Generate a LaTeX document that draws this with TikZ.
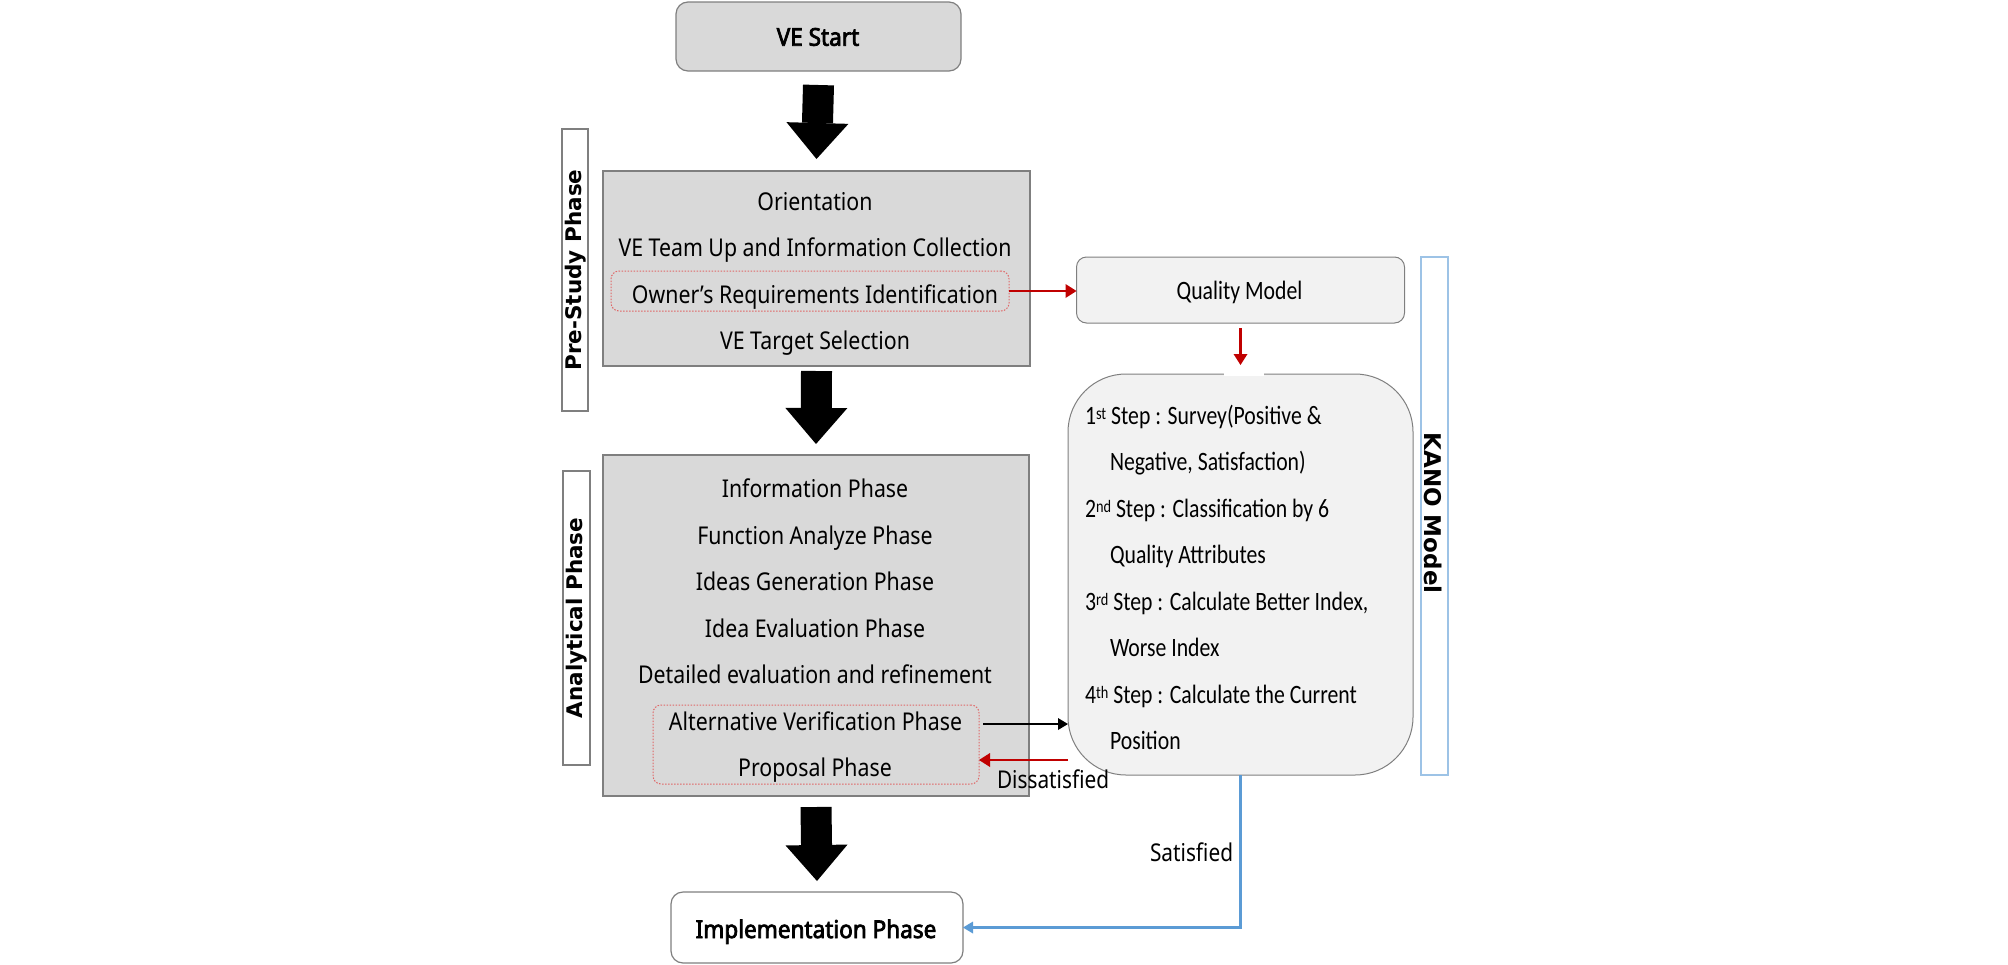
\documentclass[tikz,border=0pt]{standalone}
\usepackage{fontspec}
\setmainfont{Noto Sans}[FakeStretch=0.87]
\newfontfamily\boldmain{Noto Sans}[FakeStretch=0.92, FakeBold=3]
\newfontfamily\narrowmain{Noto Sans}[FakeStretch=0.85]
\newfontfamily\calfont{Carlito}[FakeStretch=0.82]
\newfontfamily\lblfont{DejaVu Sans}
\usetikzlibrary{arrows.meta,calc}
\definecolor{boxgray}{HTML}{D9D9D9}
\definecolor{lightbox}{HTML}{F2F2F2}
\definecolor{edgegray}{HTML}{7F7F7F}
\definecolor{redline}{HTML}{C00000}
\definecolor{reddash}{HTML}{E06666}
\definecolor{blueline}{HTML}{5B9BD5}
\definecolor{labelblue}{HTML}{9DC3E6}
\newcommand{\kup}[1]{\raisebox{4.5pt}{\fontsize{17.5}{17.5}\selectfont #1}}
\begin{document}
\begin{tikzpicture}[x=1pt,y=-1pt,
  every node/.style={inner sep=0pt, outer sep=0pt},
  txt/.style={font=\fontsize{24.5}{28}\selectfont, anchor=base},
  btxt/.style={font=\boldmain\fontsize{24.5}{28}\selectfont, anchor=base},
  ntxt/.style={font=\narrowmain\fontsize{24.5}{28}\selectfont, anchor=base west},
  ktxt/.style={font=\calfont\fontsize{26.5}{30}\selectfont, anchor=base west},
  mainbox/.style={draw=edgegray, line width=1.5pt, fill=boxgray},
  endbox/.style={draw=edgegray, line width=1.2pt, rounded corners=12pt},
  softbox/.style={draw=edgegray, line width=1pt, fill=lightbox},
  reddashbox/.style={draw=reddash, line width=1pt, dash pattern=on 1.5pt off 1.5pt, rounded corners=8pt},
  sidelabel/.style={draw=edgegray, line width=1.5pt, fill=white},
  lbltxt/.style={font=\lblfont\bfseries\fontsize{21.5}{24}\selectfont},
  bigarrow/.style={line width=31pt, -{Triangle[width=62pt,length=36pt,line width=0pt]}},
  redarr/.style={draw=redline, line width=2.5pt, -{Triangle[width=14pt,length=11pt,line width=0pt]}},
  blackarr/.style={draw=black, line width=2pt, -{Triangle[width=12pt,length=10pt,line width=0pt]}},
  bluearr/.style={draw=blueline, line width=2.5pt, -{Triangle[width=12pt,length=10pt,line width=0pt]}}
]
\useasboundingbox (0,0) rectangle (2008,964);

% ---- main column boxes
\node[endbox, fill=boxgray, minimum width=285pt, minimum height=69pt] (start) at (818.5,36.5) {};
\node[btxt] (starttxt) at (818,45.7) {VE Start};

\node[mainbox, minimum width=427pt, minimum height=195pt] (pre) at (816.5,268.5) {};
\node[reddashbox, minimum width=398pt, minimum height=40pt] (owner) at (810,291) {};
\node[txt] (t1) at (815,210) {Orientation};
\node[txt] (t2) at (815,256.5) {VE Team Up and Information Collection};
\node[txt] (t3) at (815,303) {Owner’s Requirements Identification};
\node[txt] (t4) at (815,349.5) {VE Target Selection};

\node[mainbox, minimum width=426pt, minimum height=341pt] (ana) at (816,625.5) {};
\node[reddashbox, minimum width=326pt, minimum height=79pt] (altbox) at (816,744.5) {};
\node[txt] (a1) at (815,497.5) {Information Phase};
\node[txt] (a2) at (815,544) {Function Analyze Phase};
\node[txt] (a3) at (815,590.5) {Ideas Generation Phase};
\node[txt] (a4) at (815,637) {Idea Evaluation Phase};
\node[txt] (a5) at (815,683.5) {Detailed evaluation and refinement};
\node[txt] (a6) at (815.5,730) {Alternative Verification Phase};
\node[txt] (a7) at (815,776) {Proposal Phase};

\node[endbox, fill=white, minimum width=292pt, minimum height=71pt] (impl) at (817,927.5) {};
\node[btxt] (impltxt) at (816,938) {Implementation Phase};

% ---- side labels
\node[sidelabel, minimum width=26pt, minimum height=282pt] (prelbl) at (575,270) {};
\node[lbltxt, rotate=90] (prelbltxt) at (576,270) {Pre-Study Phase};
\node[sidelabel, minimum width=27pt, minimum height=294pt] (analbl) at (576.5,618) {};
\node[lbltxt, rotate=90] (analbltxt) at (577,618) {Analytical Phase};

% ---- KANO side
\node[softbox, rounded corners=10pt, minimum width=328pt, minimum height=66pt] (quality) at (1240.5,290) {};
\node[ktxt, anchor=base] (qtxt) at (1239.5,299.3) {Quality Model};

\node[softbox, rounded corners=58pt, minimum width=345pt, minimum height=401pt] (kano) at (1240.5,574.5) {};
\node[ktxt] (k1) at (1085,424) {1\kup{st} Step : Survey(Positive \&};
\node[ktxt] (k2) at (1110,470.5) {Negative, Satisfaction)};
\node[ktxt] (k3) at (1085,517) {2\kup{nd} Step : Classification by 6};
\node[ktxt] (k4) at (1110,563.5) {Quality Attributes};
\node[ktxt] (k5) at (1085,610) {3\kup{rd} Step : Calculate Better Index,};
\node[ktxt] (k6) at (1110,656.5) {Worse Index};
\node[ktxt] (k7) at (1085,703) {4\kup{th} Step : Calculate the Current};
\node[ktxt] (k8) at (1110,749.5) {Position};

\node[draw=labelblue, line width=1.5pt, fill=white, minimum width=27pt, minimum height=518pt] (kanolbl) at (1434.5,516) {};
\node[lbltxt, font=\lblfont\bfseries\fontsize{23}{26}\selectfont, rotate=-90] (kanolbltxt) at (1433.5,513) {KANO Model};

% ---- big arrows
\draw[bigarrow] ([yshift=-14pt]start.south) -- ([yshift=12pt]pre.north);
\draw[bigarrow] ([yshift=-5pt]pre.south) -- ([yshift=11pt]ana.north);
\draw[bigarrow] ([yshift=-11pt]ana.south) -- ([yshift=11pt]impl.north);

% ---- connectors
\draw[redarr] (owner.east) -- (owner.east -| quality.west);
\draw[white, line width=3pt] ([xshift=-17pt]kano.north) -- ([xshift=23pt]kano.north);
\draw[redarr] ([yshift=-5pt]quality.south) -- ([yshift=9pt]kano.north);

\coordinate (bs) at ($(altbox.east)+(4,-20.5)$);
\draw[blackarr] (bs) -- (bs -| kano.west);
\coordinate (rs) at ($(altbox.east)+(0,15.5)$);
\draw[redarr] (rs -| kano.west) -- (rs);
\node[ntxt] (dis) at (997,788) {Dissatisfied};

\draw[bluearr] (kano.south) |- (impl.east);
\node[ntxt] (sat) at (1150,861) {Satisfied};
\end{tikzpicture}
\end{document}
